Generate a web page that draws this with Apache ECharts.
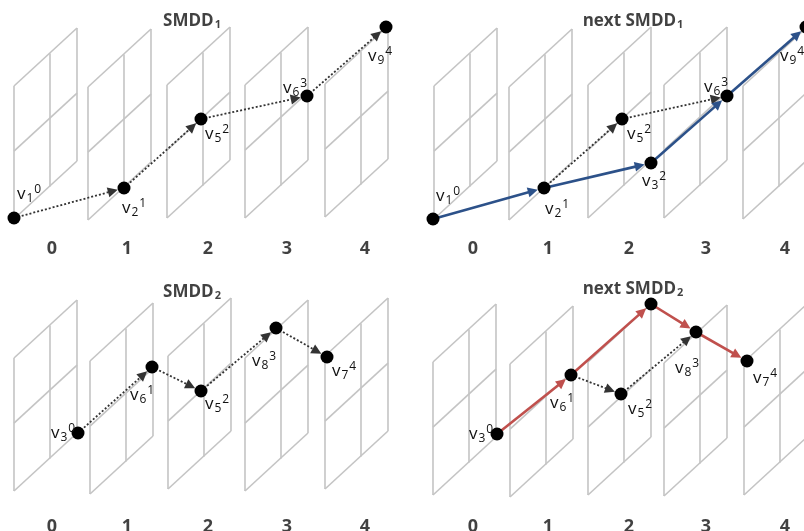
<!DOCTYPE html>
<html><head><meta charset="utf-8">
<script src="https://cdn.jsdelivr.net/npm/echarts/dist/echarts.min.js"></script>
<style>html,body{margin:0;padding:0;background:#fff}#c{width:804px;height:531px}</style>
</head><body><div id="c"></div><script>
// ---------- data ----------
// panel origins (left-top corner of each time-slice panel) per quadrant
const panelsTL = [[14,86],[88,87],[167,85],[245,85],[325,84]];
const panelsTR = [[434,86],[509,87],[588,85],[664,85],[743,86]];
const panelsBL = [[14,358],[90,361],[168,356],[245,358],[325,356]];
const panelsBR = [[433,362],[510,364],[588,362],[664,363],[744,362]];

const stageLabels = ['0','1','2','3','4'];
const stageXLeft  = [52,127,208,287,365];
const stageXRight = [473,548,629,706,785];
const stageYTop = 249, stageYBottom = 527;

const titles = [['SMDD','1',192,21],['next SMDD','1',633,21],['SMDD','2',192,292],['next SMDD','2',633,289]];

// nodes: [subscript, superscript, [x,y]]
const nodesTL = [['1','0',[14,218]],['2','1',[124,188]],['5','2',[201,119]],['6','3',[307,96]],['9','4',[386,27]]];
const nodesTR = [['1','0',[433,219]],['2','1',[544,188]],['5','2',[622,119]],['3','2',[651,163]],['6','3',[727,96]],['9','4',[806,27]]];
const nodesBL = [['3','0',[78,433]],['6','1',[152,367]],['5','2',[201,391]],['8','3',[276,328]],['7','4',[327,357]]];
const nodesBR = [['3','0',[497,434]],['6','1',[571,375]],[null,null,[651,304]],['5','2',[621,394]],['8','3',[696,332]],['7','4',[747,361]]];

// edges (node index pairs)
const dottedTL = [[0,1],[1,2],[2,3],[3,4]];
const dottedTR = [[1,2],[2,4]];
const blueTR   = [[0,1],[1,3],[3,4],[4,5]];
const dottedBL = [[0,1],[1,2],[2,3],[3,4]];
const dottedBR = [[1,3],[3,4]];
const redBR    = [[0,1],[1,2],[2,4],[4,5]];

// ---------- styling / layout ----------
const labelOffsetsTL = [[15,-24],[10,20],[16,15],[-12,-8],[-6,29]];
const labelOffsetsTR = [[15,-23],[13,21],[17,15],[3,18],[-11,-9],[-14,29]];
const labelOffsetsBL = [[-15,0],[-10,28],[16,13],[-12,33],[17,14]];
const labelOffsetsBR = [[-16,0],[-9,28],null,[19,15],[-9,36],[18,17]];

const SHAPE = {w:63, s:58, h:133, uMid:0.56, vMid:0.49};
const GRID_COLOR = '#c4c4c4', DOT_COLOR = '#333333', BLUE = '#2c5189', RED = '#c0504d';
const FONT = 'Open Sans';
const DOT_R = 6.5, ARROW = [7, 10];

function panelSegments(panels){
  const {w,s,h,uMid,vMid} = SHAPE, segs = [];
  panels.forEach(([L,T])=>{
    segs.push([[L,T],[L,T+h]]);
    segs.push([[L+w,T-s],[L+w,T-s+h]]);
    segs.push([[L,T],[L+w,T-s]]);
    segs.push([[L,T+h],[L+w,T+h-s]]);
    segs.push([[L+w*uMid,T-s*uMid],[L+w*uMid,T-s*uMid+h]]);
    segs.push([[L,T+h*vMid],[L+w,T+h*vMid-s]]);
  });
  return segs.map(c=>({coords:c}));
}
function arrowSegs(nodes, edges){
  return edges.map(([a,b])=>{
    const p=nodes[a][2], q=nodes[b][2];
    const dx=q[0]-p[0], dy=q[1]-p[1], L=Math.hypot(dx,dy);
    const cut = DOT_R + ARROW[1]/2;
    return {coords:[p.slice(), [q[0]-dx/L*cut, q[1]-dy/L*cut]]};
  });
}
const gridSegs = [].concat(panelSegments(panelsTL),panelSegments(panelsTR),panelSegments(panelsBL),panelSegments(panelsBR));
const dottedSegs = [].concat(arrowSegs(nodesTL,dottedTL),arrowSegs(nodesTR,dottedTR),arrowSegs(nodesBL,dottedBL),arrowSegs(nodesBR,dottedBR));

function nodeData(nodes, offs){
  return nodes.map((n,i)=>({
    value:n[2],
    label: n[0]==null ? {show:false} : {
      show:true, position:'inside', offset:offs[i], align:'center', verticalAlign:'middle',
      formatter:'{v|v}{b|'+n[0]+'}{p|'+n[1]+'}'
    }
  }));
}
const allNodes = [].concat(nodeData(nodesTL,labelOffsetsTL),nodeData(nodesTR,labelOffsetsTR),nodeData(nodesBL,labelOffsetsBL),nodeData(nodesBR,labelOffsetsBR));

const stageData = [];
stageLabels.forEach((t,i)=>{
  stageData.push({value:[stageXLeft[i],stageYTop],name:t});
  stageData.push({value:[stageXRight[i],stageYTop],name:t});
  stageData.push({value:[stageXLeft[i],stageYBottom],name:t});
  stageData.push({value:[stageXRight[i],stageYBottom],name:t});
});
const titleData = titles.map(t=>({value:[t[2],t[3]],name:t[0],
  label:{formatter:'{t|'+t[0]+'}{s|'+t[1]+'}'}}));

const chart = echarts.init(document.getElementById('c'));
chart.setOption({
  animation:false,
  backgroundColor:'#fff',
  grid:{left:0,right:0,top:0,bottom:0},
  xAxis:{type:'value',min:0,max:804,show:false},
  yAxis:{type:'value',min:0,max:531,inverse:true,show:false},
  series:[
    {type:'lines',coordinateSystem:'cartesian2d',data:gridSegs,symbol:'none',silent:true,z:1,clip:false,
     lineStyle:{color:GRID_COLOR,width:1.6,opacity:1}},
    {type:'lines',coordinateSystem:'cartesian2d',data:dottedSegs,symbol:['none','triangle'],symbolSize:ARROW,z:2,clip:false,
     lineStyle:{color:DOT_COLOR,width:1.8,type:[2,2],opacity:1},itemStyle:{color:DOT_COLOR}},
    {type:'lines',coordinateSystem:'cartesian2d',data:arrowSegs(nodesTR,blueTR),symbol:['none','triangle'],symbolSize:ARROW,z:3,clip:false,
     lineStyle:{color:BLUE,width:2.6,opacity:1},itemStyle:{color:BLUE}},
    {type:'lines',coordinateSystem:'cartesian2d',data:arrowSegs(nodesBR,redBR),symbol:['none','triangle'],symbolSize:ARROW,z:3,clip:false,
     lineStyle:{color:RED,width:2.6,opacity:1},itemStyle:{color:RED}},
    {type:'scatter',data:allNodes,symbolSize:DOT_R*2,z:5,clip:false,itemStyle:{color:'#000',opacity:1},
     label:{color:'#111',rich:{
       v:{fontFamily:FONT,fontSize:17,color:'#111'},
       b:{fontFamily:FONT,fontSize:12,color:'#111',padding:[9,0,0,1]},
       p:{fontFamily:FONT,fontSize:12,color:'#111',padding:[0,0,8,1]}
     }}},
    {type:'scatter',data:stageData,symbolSize:0,z:5,clip:false,
     label:{show:true,position:'inside',formatter:'{b}',fontFamily:FONT,fontWeight:'bold',fontSize:18,color:'#111'}},
    {type:'scatter',data:titleData,symbolSize:0,z:5,clip:false,
     label:{show:true,position:'inside',color:'#111',rich:{
       t:{fontFamily:FONT,fontWeight:'bold',fontSize:17,color:'#111'},
       s:{fontFamily:FONT,fontWeight:'bold',fontSize:11,color:'#111',padding:[8,0,0,1]}
     }}}
  ]
});
</script></body></html>
